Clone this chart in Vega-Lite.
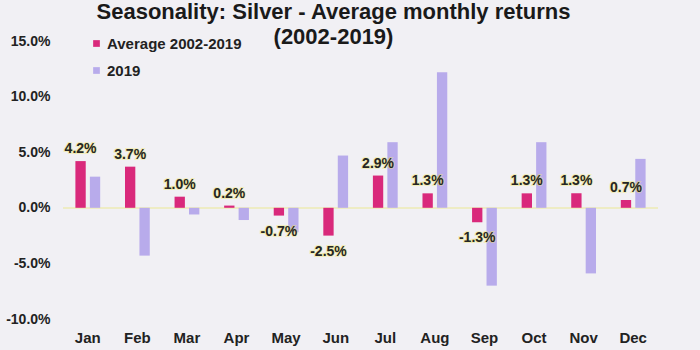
{
  "$schema": "https://vega.github.io/schema/vega-lite/v6.json",
  "width": 595,
  "height": 278,
  "autosize": {"type": "none"},
  "padding": {"left": 63, "top": 41, "right": 42, "bottom": 31},
  "background": "#f1f0f4",
  "config": {
    "view": {"stroke": null},
    "font": "Liberation Sans",
    "locale": {"number": {"decimal": ".", "thousands": ",", "grouping": [3], "currency": ["$", ""], "minus": "-"}}
  },
  "title": {
    "text": ["Seasonality: Silver - Average monthly returns", "(2002-2019)"],
    "fontSize": 22,
    "fontWeight": "bold",
    "color": "#1a1a1a",
    "anchor": "middle",
    "frame": "group",
    "dx": -27,
    "offset": -15,
    "lineHeight": 25
  },
  "data": {
    "values": [
      {"month": "Jan", "series": "Average 2002-2019", "value": 0.042},
      {"month": "Feb", "series": "Average 2002-2019", "value": 0.037},
      {"month": "Mar", "series": "Average 2002-2019", "value": 0.010},
      {"month": "Apr", "series": "Average 2002-2019", "value": 0.002},
      {"month": "May", "series": "Average 2002-2019", "value": -0.007},
      {"month": "Jun", "series": "Average 2002-2019", "value": -0.025},
      {"month": "Jul", "series": "Average 2002-2019", "value": 0.029},
      {"month": "Aug", "series": "Average 2002-2019", "value": 0.013},
      {"month": "Sep", "series": "Average 2002-2019", "value": -0.013},
      {"month": "Oct", "series": "Average 2002-2019", "value": 0.013},
      {"month": "Nov", "series": "Average 2002-2019", "value": 0.013},
      {"month": "Dec", "series": "Average 2002-2019", "value": 0.007},
      {"month": "Jan", "series": "2019", "value": 0.028},
      {"month": "Feb", "series": "2019", "value": -0.043},
      {"month": "Mar", "series": "2019", "value": -0.006},
      {"month": "Apr", "series": "2019", "value": -0.011},
      {"month": "May", "series": "2019", "value": -0.022},
      {"month": "Jun", "series": "2019", "value": 0.047},
      {"month": "Jul", "series": "2019", "value": 0.059},
      {"month": "Aug", "series": "2019", "value": 0.122},
      {"month": "Sep", "series": "2019", "value": -0.070},
      {"month": "Oct", "series": "2019", "value": 0.059},
      {"month": "Nov", "series": "2019", "value": -0.059},
      {"month": "Dec", "series": "2019", "value": 0.044}
    ]
  },
  "encoding": {
    "x": {
      "field": "month",
      "type": "nominal",
      "sort": ["Jan","Feb","Mar","Apr","May","Jun","Jul","Aug","Sep","Oct","Nov","Dec"],
      "scale": {"paddingInner": 0.5, "paddingOuter": 0.25},
      "axis": {
        "title": null,
        "labelAngle": 0,
        "domain": false,
        "ticks": false,
        "labelPadding": 11,
        "labelFontSize": 15,
        "labelFontWeight": "bold",
        "labelColor": "#222222"
      }
    },
    "y": {
      "field": "value",
      "type": "quantitative",
      "scale": {"domain": [-0.10, 0.15], "nice": false, "zero": true},
      "axis": {
        "title": null,
        "values": [-0.10, -0.05, 0, 0.05, 0.10, 0.15],
        "format": ".1%",
        "grid": false,
        "domain": false,
        "ticks": false,
        "labelPadding": 13,
        "labelFontSize": 14,
        "labelFontWeight": "bold",
        "labelColor": "#222222"
      }
    }
  },
  "layer": [
    {
      "mark": {"type": "rule", "color": "#eeecc4", "strokeWidth": 1.5},
      "encoding": {"y": {"datum": 0}, "x": null}
    },
    {
      "mark": {"type": "bar"},
      "encoding": {
        "xOffset": {
          "field": "series",
          "type": "nominal",
          "sort": ["Average 2002-2019", "2019"],
          "scale": {"paddingInner": 0.286, "paddingOuter": 0}
        },
        "color": {
          "field": "series",
          "type": "nominal",
          "sort": ["Average 2002-2019", "2019"],
          "scale": {"domain": ["Average 2002-2019", "2019"], "range": ["#d9297b", "#b8abeb"]},
          "legend": {
            "title": null,
            "orient": "none",
            "legendX": 26,
            "legendY": -5,
            "symbolType": "square",
            "symbolSize": 45,
            "labelFontSize": 15,
            "labelFontWeight": "bold",
            "labelColor": "#222222",
            "rowPadding": 11,
            "labelOffset": 3
          }
        }
      }
    },
    {
      "transform": [{"filter": "datum.series == 'Average 2002-2019' && datum.value >= 0"}],
      "mark": {"type": "text", "baseline": "bottom", "dy": -5, "fontSize": 14, "fontWeight": "bold", "color": "#f2ea6a", "stroke": "#f2ea6a", "strokeWidth": 2, "strokeOpacity": 0.6, "opacity": 0.7},
      "encoding": {
        "xOffset": {"field": "series", "type": "nominal", "sort": ["Average 2002-2019", "2019"]},
        "text": {"field": "value", "type": "quantitative", "format": ".1%"}
      }
    },
    {
      "transform": [{"filter": "datum.series == 'Average 2002-2019' && datum.value >= 0"}],
      "mark": {"type": "text", "baseline": "bottom", "dy": -5, "fontSize": 14, "fontWeight": "bold", "color": "#262626"},
      "encoding": {
        "xOffset": {"field": "series", "type": "nominal", "sort": ["Average 2002-2019", "2019"]},
        "text": {"field": "value", "type": "quantitative", "format": ".1%"}
      }
    },
    {
      "transform": [{"filter": "datum.series == 'Average 2002-2019' && datum.value < 0"}],
      "mark": {"type": "text", "baseline": "top", "dy": 9, "fontSize": 14, "fontWeight": "bold", "color": "#f2ea6a", "stroke": "#f2ea6a", "strokeWidth": 2, "strokeOpacity": 0.6, "opacity": 0.7},
      "encoding": {
        "xOffset": {"field": "series", "type": "nominal", "sort": ["Average 2002-2019", "2019"]},
        "text": {"field": "value", "type": "quantitative", "format": ".1%"}
      }
    },
    {
      "transform": [{"filter": "datum.series == 'Average 2002-2019' && datum.value < 0"}],
      "mark": {"type": "text", "baseline": "top", "dy": 9, "fontSize": 14, "fontWeight": "bold", "color": "#262626"},
      "encoding": {
        "xOffset": {"field": "series", "type": "nominal", "sort": ["Average 2002-2019", "2019"]},
        "text": {"field": "value", "type": "quantitative", "format": ".1%"}
      }
    }
  ]
}
